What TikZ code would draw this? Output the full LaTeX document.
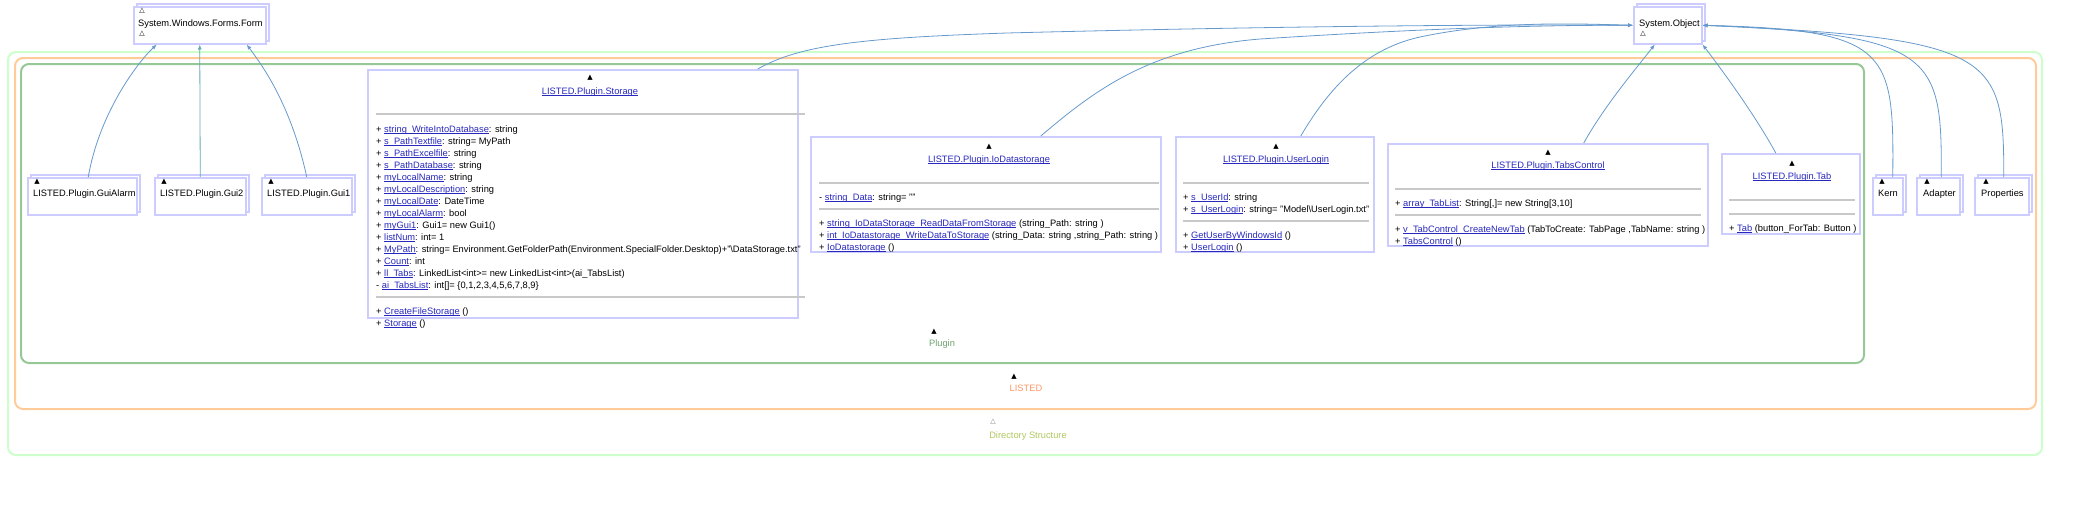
\documentclass[tikz,border=0pt]{standalone}
\usepackage{fontspec}
\setmainfont{Liberation Sans}
\newfontfamily\trifont{DejaVu Sans}
\usepackage{xcolor}
\usepackage{tikz}
\usetikzlibrary{arrows.meta,shapes.misc,shadows}

\definecolor{boxlav}{RGB}{204,204,255}
\definecolor{sepgray}{RGB}{200,200,200}
\definecolor{linkblue}{RGB}{40,40,190}
\definecolor{inhblue}{RGB}{102,153,204}
\definecolor{inhteal}{RGB}{102,170,180}
\definecolor{dirgreen}{RGB}{204,255,204}
\definecolor{listedorange}{RGB}{255,204,153}
\definecolor{plugingreen}{RGB}{150,200,150}
\definecolor{dirtext}{RGB}{175,200,95}
\definecolor{listedtext}{RGB}{255,150,100}
\definecolor{plugintext}{RGB}{110,160,110}

\newcommand{\ulink}[1]{{\color{linkblue}\sbox0{#1}\rlap{\rule[-1.5pt]{\wd0}{0.6pt}}\usebox0}}
\newcommand{\fulltri}{{\trifont\fontsize{7}{7}\selectfont ▲}}
\newcommand{\hollowtri}{{\trifont\fontsize{7}{7}\selectfont △}}

\tikzset{
  comp/.style={draw=boxlav, line width=1.5pt, fill=white, anchor=north west, inner sep=0pt,
    copy shadow={shadow xshift=3pt, shadow yshift=3pt}},
  cls/.style={chamfered rectangle, chamfered rectangle corners=north east,
    chamfered rectangle sep=5pt, draw=boxlav, line width=1.5pt, fill=white,
    anchor=north west, inner sep=0pt},
  txt/.style={anchor=base west, inner sep=0pt, font=\fontsize{9.3}{11}\selectfont},
  ttl/.style={anchor=base, inner sep=0pt, font=\fontsize{9.3}{11}\selectfont},
  tri/.style={inner sep=0pt},
  sepline/.style={draw=sepgray, line width=2pt},
  inh/.style={draw=inhblue, line width=0.8pt, -{Latex[length=5pt,width=4pt]}},
  frame/.style={line width=2pt, rounded corners=8pt}
}

\begin{document}
\begin{tikzpicture}[x=1pt,y=-1pt]
\useasboundingbox (0,0) rectangle (2093,512);

% package frames
\draw[frame, dirgreen] (8,52) rectangle (2042,455);
\draw[frame, listedorange] (15,58) rectangle (2036,409);
\draw[frame, plugingreen] (21,64) rectangle (1864,363);

\node[tri] (plugintri) at (934,332) {\fulltri};
\node[ttl, text=plugintext] (pluginlbl) at (942,346.5) {Plugin};
\node[tri] (listedtri) at (1014,377) {\fulltri};
\node[ttl, text=listedtext] (listedlbl) at (1026,391.5) {LISTED};
\node[tri, text=gray] (dirtri) at (993,422) {\hollowtri};
\node[ttl, text=dirtext] (dirlbl) at (1028,438.5) {Directory Structure};

% base classes
\node[comp, minimum width=132pt, minimum height=37pt] (form) at (133,6) {};
\node[tri] (formtri1) at (142,11) {\hollowtri};
\node[txt] (formname) at (138,26.5) {System.Windows.Forms.Form};
\node[tri] (formtri2) at (142,34) {\hollowtri};

\node[comp, minimum width=68pt, minimum height=37pt] (sysobj) at (1633,6) {};
\node[txt] (sysobjname) at (1639,26.5) {System.Object};
\node[tri] (sysobjtri) at (1643,34) {\hollowtri};

% forms
\node[comp, minimum width=109pt, minimum height=37pt] (guialarm) at (27,177) {};
\node[tri] (guialarmtri) at (37,182) {\fulltri};
\node[txt] (guialarmname) at (33,196.5) {LISTED.Plugin.GuiAlarm};

\node[comp, minimum width=91pt, minimum height=37pt] (gui2) at (154,177) {};
\node[tri] (gui2tri) at (164,182) {\fulltri};
\node[txt] (gui2name) at (160,196.5) {LISTED.Plugin.Gui2};

\node[comp, minimum width=90pt, minimum height=37pt] (gui1) at (261,177) {};
\node[tri] (gui1tri) at (271,182) {\fulltri};
\node[txt] (gui1name) at (267,196.5) {LISTED.Plugin.Gui1};

% small components
\node[comp, minimum width=30pt, minimum height=37pt] (kern) at (1872,177) {};
\node[tri] (kerntri) at (1882,182) {\fulltri};
\node[txt] (kernname) at (1878,196.5) {Kern};

\node[comp, minimum width=43pt, minimum height=37pt] (adapter) at (1916,177) {};
\node[tri] (adaptertri) at (1927,182) {\fulltri};
\node[txt] (adaptername) at (1923,196.5) {Adapter};

\node[comp, minimum width=54pt, minimum height=37pt] (props) at (1974,177) {};
\node[tri] (propstri) at (1986,182) {\fulltri};
\node[txt] (propsname) at (1981,196.5) {Properties};

% Storage
\node[cls, minimum width=430pt, minimum height=248pt] (storage) at (367,69) {};
\node[tri] (storagetri) at (590,78) {\fulltri};
\node[ttl] (storagename) at (590,94.5) {\ulink{LISTED.Plugin.Storage}};
\draw[sepline] (376,114) -- (805,114);
\node[txt] (stattr1) at (376,132) {+ \ulink{string\_WriteIntoDatabase}: string};
\node[txt] (stattr2) at (376,144) {+ \ulink{s\_PathTextfile}: string= MyPath};
\node[txt] (stattr3) at (376,156) {+ \ulink{s\_PathExcelfile}: string};
\node[txt] (stattr4) at (376,168) {+ \ulink{s\_PathDatabase}: string};
\node[txt] (stattr5) at (376,180) {+ \ulink{myLocalName}: string};
\node[txt] (stattr6) at (376,192) {+ \ulink{myLocalDescription}: string};
\node[txt] (stattr7) at (376,204) {+ \ulink{myLocalDate}: DateTime};
\node[txt] (stattr8) at (376,216) {+ \ulink{myLocalAlarm}: bool};
\node[txt] (stattr9) at (376,228) {+ \ulink{myGui1}: Gui1= new Gui1()};
\node[txt] (stattr10) at (376,240) {+ \ulink{listNum}: int= 1};
\node[txt] (stattr11) at (376,252) {+ \ulink{MyPath}: string= Environment.GetFolderPath(Environment.SpecialFolder.Desktop)+"\textbackslash DataStorage.txt"};
\node[txt] (stattr12) at (376,264) {+ \ulink{Count}: int};
\node[txt] (stattr13) at (376,276) {+ \ulink{ll\_Tabs}: LinkedList<int>= new LinkedList<int>(ai\_TabsList)};
\node[txt] (stattr14) at (376,288) {- \ulink{ai\_TabsList}: int[]= \{0,1,2,3,4,5,6,7,8,9\}};
\draw[sepline] (376,297) -- (805,297);
\node[txt] (stop1) at (376,314) {+ \ulink{CreateFileStorage} ()};
\node[txt] (stop2) at (376,326) {+ \ulink{Storage} ()};

% IoDatastorage
\node[cls, minimum width=350pt, minimum height=115pt] (iostore) at (810,136) {};
\node[tri] (iostoretri) at (989,147) {\fulltri};
\node[ttl] (iostorename) at (989,162.5) {\ulink{LISTED.Plugin.IoDatastorage}};
\draw[sepline] (819,183) -- (1159,183);
\node[txt] (ioattr1) at (819,200) {- \ulink{string\_Data}: string= ""};
\draw[sepline] (819,209) -- (1159,209);
\node[txt] (ioop1) at (819,226) {+ \ulink{string\_IoDataStorage\_ReadDataFromStorage} (string\_Path: string )};
\node[txt] (ioop2) at (819,238) {+ \ulink{int\_IoDatastorage\_WriteDataToStorage} (string\_Data: string ,string\_Path: string )};
\node[txt] (ioop3) at (819,250) {+ \ulink{IoDatastorage} ()};

% UserLogin
\node[cls, minimum width=198pt, minimum height=115pt] (userlogin) at (1175,136) {};
\node[tri] (userlogintri) at (1276,147) {\fulltri};
\node[ttl] (userloginname) at (1276,162.5) {\ulink{LISTED.Plugin.UserLogin}};
\draw[sepline] (1183,183) -- (1369,183);
\node[txt] (ulattr1) at (1183,200) {+ \ulink{s\_UserId}: string};
\node[txt] (ulattr2) at (1183,212) {+ \ulink{s\_UserLogin}: string= "Model\textbackslash UserLogin.txt"};
\draw[sepline] (1183,221) -- (1369,221);
\node[txt] (ulop1) at (1183,238) {+ \ulink{GetUserByWindowsId} ()};
\node[txt] (ulop2) at (1183,250) {+ \ulink{UserLogin} ()};

% TabsControl
\node[cls, minimum width=320pt, minimum height=102pt] (tabsctrl) at (1387,143) {};
\node[tri] (tabsctrltri) at (1548,153) {\fulltri};
\node[ttl] (tabsctrlname) at (1548,168.5) {\ulink{LISTED.Plugin.TabsControl}};
\draw[sepline] (1395,189) -- (1701,189);
\node[txt] (tcattr1) at (1395,206) {+ \ulink{array\_TabList}: String[,]= new String[3,10]};
\draw[sepline] (1395,215) -- (1701,215);
\node[txt] (tcop1) at (1395,232) {+ \ulink{v\_TabControl\_CreateNewTab} (TabToCreate: TabPage ,TabName: string )};
\node[txt] (tcop2) at (1395,244) {+ \ulink{TabsControl} ()};

% Tab
\node[cls, minimum width=138pt, minimum height=80pt] (tab) at (1721,153) {};
\node[tri] (tabtri) at (1792,164) {\fulltri};
\node[ttl] (tabname) at (1792,179.5) {\ulink{LISTED.Plugin.Tab}};
\draw[sepline] (1729,200) -- (1855,200);
\draw[sepline] (1729,214) -- (1855,214);
\node[txt] (tbop1) at (1729,231) {+ \ulink{Tab} (button\_ForTab: Button )};

% inheritance
\draw[inh] ([xshift=6pt]guialarm.north) .. controls (100,110) and (140,60) .. ([xshift=-43pt]form.south);
\draw[inh, draw=inhteal] (gui2.north) -- (form.south);
\draw[inh] (gui1.north) .. controls (290,100) and (258,60) .. ([xshift=47pt]form.south);

\draw[inh] ([xshift=175pt]storage.north) .. controls (800,45) and (860,38) .. (1007,33)
  .. controls (1200,28) and (1450,24) .. (sysobj.west);
\draw[inh] ([xshift=55pt]iostore.north) .. controls (1095,90) and (1150,48) .. (1260,39)
  .. controls (1400,30) and (1520,25) .. (sysobj.west);
\draw[inh] ([xshift=26pt]userlogin.north) .. controls (1325,95) and (1360,50) .. (1420,37)
  .. controls (1500,20) and (1580,24) .. (sysobj.west);
\draw[inh] ([xshift=36pt]tabsctrl.north) .. controls (1605,105) and (1635,70) .. ([xshift=-13pt]sysobj.south);
\draw[inh] ([xshift=-15pt]tab.north) .. controls (1755,115) and (1722,70) .. (sysobj.south east);

\draw[inh] ([xshift=5pt]kern.north) .. controls (1894,50) and (1890,30) .. (sysobj.east);
\draw[inh] ([xshift=3pt]adapter.north) .. controls (1942,55) and (1935,35) .. (sysobj.east);
\draw[inh] ([xshift=2pt]props.north) .. controls (2004,55) and (1995,38) .. (sysobj.east);

\end{tikzpicture}
\end{document}
